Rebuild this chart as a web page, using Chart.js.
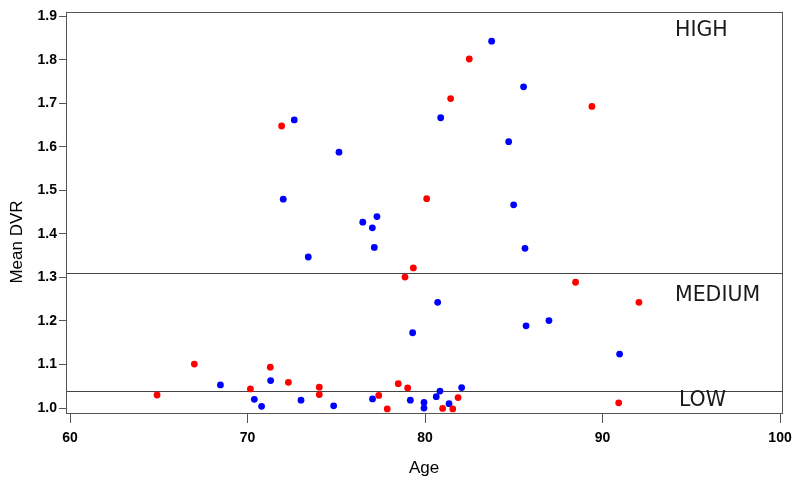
<!DOCTYPE html>
<html>
<head>
<meta charset="utf-8">
<script src="https://cdn.jsdelivr.net/npm/chart.js@4/dist/chart.umd.min.js"></script>
<style>
  html, body { margin: 0; padding: 0; background: #fff; }
  #wrap { width: 800px; height: 485px; }
</style>
</head>
<body>
<div id="wrap"><canvas id="chart" width="800" height="485"></canvas></div>
<script>
'use strict';

// Group shown in red
const redAge = [71.92, 82.49, 81.44, 89.40, 80.09, 67.00, 71.28, 64.90, 70.16, 72.30, 74.04, 74.04,
                77.39, 77.87, 78.49, 79.34, 78.87, 88.48, 92.05, 79.02, 81.86, 80.99, 81.56, 90.91];
const redDvr = [1.648, 1.802, 1.711, 1.693, 1.481, 1.101, 1.094, 1.030, 1.044, 1.059, 1.048, 1.031,
                1.029, 0.998, 1.056, 1.322, 1.301, 1.289, 1.243, 1.046, 1.024, 0.999, 0.998, 1.012];

// Group shown in blue
const blueAge = [72.63, 75.15, 72.01, 76.49, 77.03, 77.29, 77.14, 83.75, 85.55, 80.88, 84.71, 84.99,
                 85.63, 73.42, 68.47, 71.30, 70.38, 70.79, 73.01, 74.85, 77.04, 80.71, 79.30, 85.69,
                 86.98, 90.96, 82.06, 80.84, 80.63, 79.17, 79.94, 79.94, 81.35];
const blueDvr = [1.662, 1.588, 1.480, 1.427, 1.414, 1.440, 1.369, 1.843, 1.738, 1.667, 1.612, 1.467,
                 1.367, 1.347, 1.053, 1.063, 1.020, 1.004, 1.018, 1.005, 1.021, 1.243, 1.173, 1.189,
                 1.201, 1.124, 1.047, 1.039, 1.026, 1.018, 1.013, 1.000, 1.010];

const xTicks = [60, 70, 80, 90, 100];
const yTicks = [1.0, 1.1, 1.2, 1.3, 1.4, 1.5, 1.6, 1.7, 1.8, 1.9];

// cut-offs between the zones and their labels
const cutoffs = [1.31, 1.04];
const zoneNames = ['HIGH', 'MEDIUM', 'LOW'];
const zoneY = [1.868, 1.259, 1.016];
const zoneX = [94.08, 94.08, 94.3];

function toPoints(xs, ys) {
  return xs.map((x, i) => ({x: x, y: ys[i]}));
}

const AXIS_COLOR = '#555';
const TICK_FONT = {family: 'Liberation Sans', size: 14, weight: 'bold'};

// box, cut-off lines, zone labels, axis titles
const extras = {
  id: 'extras',
  beforeDatasetsDraw(chart) {
    const {ctx, chartArea: a, scales} = chart;
    ctx.save();
    ctx.strokeStyle = '#444';
    ctx.lineWidth = 1;
    cutoffs.forEach(v => {
      const y = Math.round(scales.y.getPixelForValue(v)) + 0.5;
      ctx.beginPath();
      ctx.moveTo(a.left, y);
      ctx.lineTo(a.right, y);
      ctx.stroke();
    });
    ctx.strokeStyle = AXIS_COLOR;
    ctx.strokeRect(Math.round(a.left) + 0.5, Math.round(a.top) + 0.5,
                   Math.round(a.right - a.left), Math.round(a.bottom - a.top));

    ctx.fillStyle = '#1a1a1a';
    ctx.font = '20.5px "DejaVu Sans"';
    ctx.textBaseline = 'middle';
    ctx.textAlign = 'left';
    zoneNames.forEach((name, i) => {
      ctx.fillText(name, scales.x.getPixelForValue(zoneX[i]), scales.y.getPixelForValue(zoneY[i]));
    });

    ctx.fillStyle = '#000';
    ctx.font = '17px "Liberation Sans"';
    ctx.textAlign = 'center';
    ctx.textBaseline = 'alphabetic';
    ctx.fillText('Age', (a.left + a.right) / 2, 473);
    ctx.translate(22, 242);
    ctx.rotate(-Math.PI / 2);
    ctx.fillText('Mean DVR', 0, 0);
    ctx.restore();
  }
};

const chart = new Chart(document.getElementById('chart'), {
  type: 'scatter',
  data: {
    datasets: [
      {label: 'red', data: toPoints(redAge, redDvr), backgroundColor: '#ff0000', borderWidth: 0, pointRadius: 3.4},
      {label: 'blue', data: toPoints(blueAge, blueDvr), backgroundColor: '#0000ff', borderWidth: 0, pointRadius: 3.4}
    ]
  },
  options: {
    responsive: false,
    animation: false,
    layout: {padding: {left: 0, right: 18, top: 12, bottom: 0}},
    plugins: {legend: {display: false}, tooltip: {enabled: false}},
    scales: {
      x: {
        type: 'linear',
        min: 59.77,
        max: 100.11,
        afterBuildTicks: s => { s.ticks = xTicks.map(v => ({value: v})); },
        afterFit: s => { s.height = 72; },
        grid: {drawOnChartArea: false, tickLength: 10, tickColor: AXIS_COLOR},
        border: {color: AXIS_COLOR},
        ticks: {color: '#000', font: TICK_FONT, padding: 7, maxRotation: 0}
      },
      y: {
        type: 'linear',
        min: 0.9886,
        max: 1.91,
        afterBuildTicks: s => { s.ticks = yTicks.map(v => ({value: v})); },
        afterFit: s => { s.width = 66; },
        grid: {drawOnChartArea: false, tickLength: 7, tickColor: AXIS_COLOR},
        border: {color: AXIS_COLOR},
        ticks: {color: '#000', font: TICK_FONT, padding: 2, callback: v => v.toFixed(1)}
      }
    }
  },
  plugins: [extras]
});
</script>
</body>
</html>
